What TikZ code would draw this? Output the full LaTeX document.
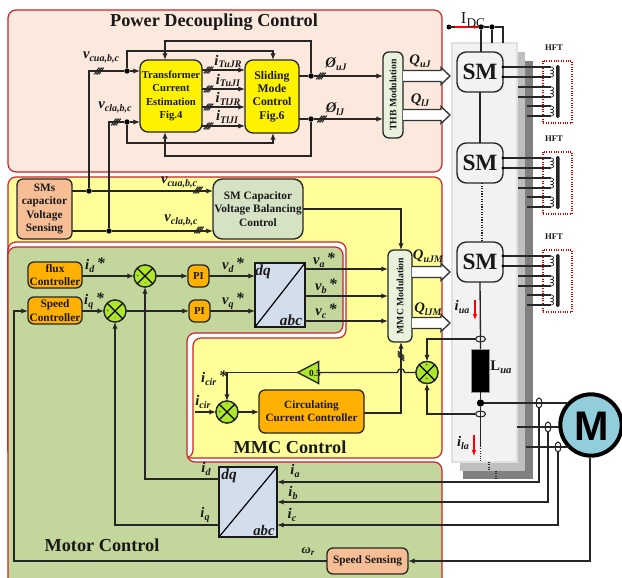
\documentclass[tikz,border=0pt]{standalone}
\usepackage{fontspec}
\setmainfont{Liberation Serif}
\setsansfont{Liberation Sans}
\usetikzlibrary{arrows.meta,shapes.geometric}
\definecolor{pinkp}{HTML}{FCE9DD}
\definecolor{yelp}{HTML}{FFFF99}
\definecolor{grnp}{HTML}{C3D69B}
\definecolor{redl}{HTML}{C8242B}
\definecolor{orb}{HTML}{FFB000}
\definecolor{salm}{HTML}{F7BE96}
\definecolor{lime}{HTML}{ADE62B}
\definecolor{dqb}{HTML}{D3DEEC}
\definecolor{modb}{HTML}{E8F2DC}
\definecolor{balb}{HTML}{D6E2C4}
\definecolor{motb}{HTML}{92CDDC}
\definecolor{smb}{HTML}{F2F2F2}
\newcommand{\fs}[1]{\fontsize{#1}{#1}\selectfont}
\newcommand{\fb}[1]{\fontsize{#1}{10}\selectfont}
\newcommand{\lb}[3][]{{\bfseries\itshape\fs{11}#2\raisebox{-2.2pt}{\fs{7.5}#3}#1}}
\newcommand{\lbs}[2]{{\bfseries\itshape\fs{11}#1\raisebox{-2.2pt}{\fs{7.5}#2}\,\raisebox{1pt}{\fs{12}*}}}
\tikzset{
 x=0.75pt,y=-0.75pt,
 wh/.style 2 args={minimum width=#1*0.75pt,minimum height=#2*0.75pt,inner sep=0pt,outer sep=0pt},
 panel/.style={draw=redl,line width=0.9pt,rounded corners=6pt},
 wire/.style={draw=black!85,line width=0.95pt},
 arr/.style={wire,-{Latex[length=5pt,width=4pt]}},
 blk/.style={draw=black!85,line width=1pt,rounded corners=4.5pt,align=center,text=black!90,font=\bfseries\fb{8.5}},
 yb/.style={blk,fill=yellow,rounded corners=6pt},
 ob/.style={blk,fill=orb},
 sl/.style={blk,fill=salm},
 sm/.style={blk,fill=smb,rounded corners=7pt,font=\bfseries\fs{17.5}},
 dqbox/.style={draw=black!90,line width=1pt,fill=dqb},
 sumj/.style={circle,draw=black!85,line width=1pt,fill=lime,minimum size=16.5pt,inner sep=0pt,outer sep=0pt},
 dotj/.style={circle,fill=black,minimum size=4pt,inner sep=0pt,outer sep=0pt},
 ringh/.style={ellipse,draw=black!85,line width=0.8pt,fill=none,minimum width=7.5pt,minimum height=4.5pt,inner sep=0pt,outer sep=0pt},
 ringv/.style={ellipse,draw=black!85,line width=0.8pt,fill=none,minimum width=4.5pt,minimum height=7.5pt,inner sep=0pt,outer sep=0pt},
 txt/.style={inner sep=0pt,outer sep=0pt,text=black!90},
 hft/.style={draw=red!85!black,densely dotted,line width=0.8pt},
 tiny/.style={inner sep=0pt,font=\bfseries\fs{3.5}},
}
\newcommand{\hatch}[2]{\foreach \d in {-2.4,-0.8,0.8,2.4}{\draw[black!85,line width=0.75pt] (#1+\d-2.4,#2+3.4) -- (#1+\d+2.4,#2-3.4);}}
\newcommand{\hatchv}[2]{\foreach \d in {-2.4,-0.8,0.8,2.4}{\draw[black!85,line width=0.75pt] (#1-3.2,#2+\d-2.6) -- (#1+3.2,#2+\d+2.6);}}
\newcommand{\crossj}[1]{\draw[black,line width=0.85pt] (#1.45)--(#1.225) (#1.135)--(#1.315);}
\newcommand{\hollow}[3]{\fill[white] (#2,#1-5.5) -- (#3-9,#1-5.5) -- (#3-9,#1-8.5) -- (#3,#1) -- (#3-9,#1+8.5) -- (#3-9,#1+5.5) -- (#2,#1+5.5) -- cycle;
 \draw[black!80,line width=1pt,line join=miter] (#2,#1-5.5) -- (#3-9,#1-5.5) -- (#3-9,#1-8.5) -- (#3,#1) -- (#3-9,#1+8.5) -- (#3-9,#1+5.5) -- (#2,#1+5.5);}
\newcommand{\coil}[3]{\draw[black!85,line width=0.85pt] (#1,#2) -- (551,#2) (#1,#3) -- (551,#3);
 \draw[black!85,line width=0.5pt] (551,#2) .. controls (554.5,#2) and (554.5,#2+3.3) .. (551,#2+3.3) .. controls (554.5,#2+3.3) and (554.5,#2+6.6) .. (551,#2+6.6) .. controls (554.5,#2+6.6) and (554.5,#3) .. (551,#3);}
\begin{document}
\begin{tikzpicture}
\useasboundingbox (0,0) rectangle (622,578);
\fill[white] (0,0) rectangle (622,578);
% panels
\draw[panel,fill=pinkp] (8,10) rectangle (442,172);
\draw[panel,fill=yelp] (8,177) rectangle (442,458);
\draw[panel,fill=white] (8,242) -- (346,242) -- (346,338) -- (193,338) -- (193,458) -- (8,458) -- cycle;
\begin{scope}
\clip (0,0) rectangle (622,578);
\draw[panel,fill=grnp] (8,247) -- (343,247) -- (343,333) -- (187,333) -- (187,462) -- (442,462) -- (442,590) -- (8,590) -- cycle;
\end{scope}
% stack panels
\fill[black!50] (463,61) rectangle (533,479);
\fill[black!25] (460,52) rectangle (525,471);
\draw[black!12,fill=smb,line width=0.8pt] (452,43) rectangle (517,462);
% titles
\node[txt,font=\bfseries\fs{13.7}] (t1) at (214,22) {Power Decoupling Control};
\node[txt,font=\bfseries\fs{13.7}] (t2) at (290,447) {MMC Control};
\node[txt,font=\bfseries\fs{13.7}] (t3) at (102,545) {Motor Control};
% blocks: power
\node[yb,wh={62}{72},font=\bfseries\fb{8}] (tce) at (171,96) {Transformer\\Current\\Estimation\\Fig.4};
\node[yb,wh={54}{73},font=\bfseries\fb{8.8}] (smc) at (272,96.5) {Sliding\\Mode\\Control\\Fig.6};
\node[blk,fill=modb,rotate=90,minimum width=86*0.75pt,minimum height=20*0.75pt,inner sep=0pt,outer sep=0pt,font=\bfseries\fs{7.3}] (thb) at (393,95) {THB Modulation};
% sensing
\node[sl,wh={55}{60}] (sens) at (44.5,209) {SMs\\capacitor\\Voltage\\Sensing};
\node[blk,fill=balb,wh={90}{60},rounded corners=7pt] (bal) at (258,209) {SM Capacitor\\Voltage Balancing\\Control};
\node[blk,fill=modb,rotate=90,minimum width=92*0.75pt,minimum height=24*0.75pt,inner sep=0pt,outer sep=0pt,font=\bfseries\fs{7.3}] (mmc) at (400,296) {MMC Modulation};
% motor control top
\node[ob,wh={54}{26}] (flux) at (55,275) {flux\\Controller};
\node[ob,wh={54}{27}] (spd) at (55,310.5) {Speed\\Controller};
\node[sumj] (s1) at (145,276) {};
\node[sumj] (s2) at (115,311) {};
\node[ob,wh={21}{22},font=\bfseries\fs{8}] (pi1) at (198.5,276) {PI};
\node[ob,wh={21}{22},font=\bfseries\fs{8}] (pi2) at (199.5,311) {PI};
\node[dqbox,wh={50}{64}] (dq1) at (280,295) {};
\draw[black,line width=0.9pt] (dq1.south west) -- (dq1.north east);
\node[txt,font=\bfseries\itshape\fs{11.5}] (dq1a) at (263,272) {dq};
\node[txt,font=\bfseries\itshape\fs{11.5}] (dq1b) at (291,320) {abc};
% MMC ctl
\node[sumj] (s3) at (427,372.5) {};
\node[sumj] (s4) at (227,412) {};
\node[isosceles triangle,isosceles triangle stretches,draw=black!85,fill=lime,line width=1pt,shape border rotate=180,minimum height=21*0.75pt,minimum width=22*0.75pt,inner sep=0pt,outer sep=0pt] (gain) at (312,372.5) {};
\node[txt,font=\bfseries\fs{7}] (gaint) at (315,373.5) {0.5};
\node[ob,wh={105}{43},font=\bfseries\fb{8.4}] (ccc) at (311.5,411.5) {Circulating\\Current Controller};
% motor control bottom
\node[dqbox,wh={58}{70}] (dq2) at (248,502) {};
\draw[black,line width=0.9pt] (dq2.south west) -- (dq2.north east);
\node[txt,font=\bfseries\itshape\fs{11.5}] (dq2a) at (229,476) {dq};
\node[txt,font=\bfseries\itshape\fs{11}] (dq2b) at (264,530) {abc};
\node[sl,wh={81}{26},font=\bfseries\fs{8.5}] (ss) at (367.5,561) {Speed Sensing};
% SMs
\node[sm,wh={46}{40}] (sm1) at (480,72) {SM};
\node[sm,wh={46}{40}] (sm2) at (480,163) {SM};
\node[sm,wh={46}{40}] (sm3) at (480,262) {SM};
% junctions
\coordinate (d0) at (449,27);
\node[dotj] (d1) at (481,27) {};
\node[dotj] (d2) at (492,27) {};
\node[dotj] (ivu) at (127,71) {};
\node[dotj] (ivl) at (127,122) {};
\node[dotj] (v1) at (89,191) {};
\node[dotj] (v2) at (109,231) {};
\node[dotj] (ou) at (311,76) {};
\node[dotj] (ol) at (311,119) {};
% hollow arrows
\hollow{76}{403}{450}
\hollow{115}{403}{450}
\hollow{272}{412}{450}
\hollow{323}{412}{450}
% wires power
\coordinate (vua) at (89,71);
\coordinate (vla) at (109,122);
\draw[arr] (v1) -- (vua) -- (ivu) -- (tce.west |- ivu);
\draw[arr] (v2) -- (vla) -- (ivl) -- (tce.west |- ivl);
\hatch{99}{71}\hatch{116}{122}
\fill[black] (d0) circle (2.5);
\coordinate (a1) at (127,51);\coordinate (a2) at (273,51);\coordinate (a3) at (127,143);\coordinate (a4) at (273,143);
\draw[arr] (ivu) -- (a1) -- (a2) -- (smc.north -| a2);
\draw[arr] (ivl) -- (a3) -- (a4) -- (smc.south -| a4);
\coordinate (b1) at (311,41);\coordinate (b2) at (165,41);\coordinate (b3) at (311,156);\coordinate (b4) at (165,156);
\draw[arr] (ou) -- (b1) -- (b2) -- (tce.north -| b2);
\draw[arr] (ol) -- (b3) -- (b4) -- (tce.south -| b4);
\foreach \yy/\nm in {70/c1,89/c2,107/c3,126/c4}{
 \coordinate (\nm) at (202,\yy);
 \draw[arr] (\nm) -- (smc.west |- \nm);
 \hatch{208.5}{\yy}
}
\coordinate (q1) at (383,76);\coordinate (q2) at (383,119);
\draw[arr] (smc.east |- ou) -- (ou) -- (q1);
\draw[arr] (smc.east |- ol) -- (ol) -- (q2);
\hatch{321}{76}\hatch{322}{119}
% sensing wires
\draw[arr] (sens.east |- v1) -- (v1) -- (bal.west |- v1);
\draw[arr] (sens.east |- v2) -- (v2) -- (bal.west |- v2);
\hatch{198}{190}\hatch{199}{230}
\coordinate (bm) at (401,209);
\draw[arr] (bal.east |- bm) -- (bm) -- (mmc.east -| bm);
% motor top wires
\draw[arr] (flux.east |- s1) -- (s1);
\draw[arr] (spd.east |- s2) -- (s2);
\draw[arr] (s1) -- (pi1);
\draw[arr] (s2) -- (pi2);
\draw[arr] (pi1) -- (dq1.west |- pi1);
\draw[arr] (pi2) -- (dq1.west |- pi2);
\foreach \yy/\nm in {269/e1,296/e2,321/e3}{
 \coordinate (\nm) at (305,\yy);
 \draw[arr] (\nm) -- (388,\yy);
}
\node[sumj] at (s1) {};\node[sumj] at (s2) {};\crossj{s1}\crossj{s2}
% feedback from lower dq
\coordinate (f1) at (145,479);\coordinate (f2) at (115,525);
\draw[arr] (dq2.west |- f1) -- (f1) -- (s1.south);
\draw[arr] (dq2.west |- f2) -- (f2) -- (s2.south);
% SM chain
\node[ringh] (r1) at (480.5,339) {};
\node[ringh] (r2) at (480.5,414) {};
\node[dotj,minimum size=5.5pt] (pt) at (480.5,403) {};
\node[fill=black,draw=black!40,line width=0.3pt,wh={18}{43}] (lua) at (480,370.5) {};
\draw[wire,line width=1pt] (d1) -- (481,52);
\draw[wire,line width=1pt] (d0) -- (d1) -- (d2) -- (503,27) -- (503,43);
\draw[wire,line width=1pt] (d2) -- (492,43);
\draw[-{Latex[length=3.5pt,width=3pt]},red,line width=0.8pt] (d0) ++(6,0) -- (479,27);
\draw[wire,line width=1pt] (sm1.south) -- (sm2.north);
\draw[wire,densely dotted,line width=1pt] (482,183) -- (482,242);
\draw[wire,line width=1pt] (sm3.south) -- (r1.center) -- (lua.north -| r1);
\draw[wire,line width=1pt] (lua.south -| pt) -- (pt) -- (r2.center) -- (480.5,446);
\coordinate (lo) at (480.5,446);
\draw[black!85,densely dotted,line width=0.8pt] (lo) -- (480.5,462);
\draw[black!85,densely dotted,line width=0.8pt] (489,462) -- (489,471);
\draw[black!85,densely dotted,line width=0.8pt] (496,471) -- (496,479);
\draw[red,line width=0.8pt,-{Latex[length=4.5pt,width=3.5pt]}] (475,300) -- (475,320);
\draw[red,line width=0.8pt,-{Latex[length=4.5pt,width=3.5pt]}] (474,435) -- (474,456);
% circulating
\coordinate (ri1) at (427,339);\coordinate (ri2) at (427,414);
\draw[arr] (r1) -- (ri1) -- (s3);
\draw[arr] (r2) -- (ri2) -- (s3);
\coordinate (cu) at (401,413);
\draw[arr] (ccc.east |- cu) -- (cu) -- (mmc.west -| cu);
\hatchv{401}{356}
\coordinate (g1) at (227,372.5);
\draw[wire] (s3.west) -- (404.5,372.5) .. controls (404.5,367.5) and (397.5,367.5) .. (397.5,372.5) -- (gain.east);
\draw[arr] (gain.west) -- (g1) -- (s4);
\coordinate (ci) at (195,412);
\draw[arr] (ci) -- (s4);
\draw[arr] (s4) -- (ccc.west |- s4);
\node[sumj] at (s3) {};\node[sumj] at (s4) {};\crossj{s3}\crossj{s4}
% signs
\node[tiny] (p1) at (138,276) {+};\node[tiny] (p2) at (145.5,284) {-};
\node[tiny] (p3) at (108,311) {+};\node[tiny] (p4) at (115,319) {-};
\node[tiny] (p5) at (427,365) {+};\node[tiny] (p6) at (427,379) {+};
\node[tiny] (p7) at (220,412) {+};\node[tiny] (p8) at (227,405) {-};
% motor
\node[circle,draw=black,line width=3pt,fill=motb,minimum size=46pt,inner sep=0pt] (mot) at (591,425) {};
\node[txt,text=black,font=\sffamily\bfseries\fs{31}] (mott) at (592,426) {M};
\coordinate (ml2) at (517,427);\coordinate (ml3) at (526,447);
\node[ringv] (rv1) at (539,403) {};
\node[ringv] (rv2) at (548,427) {};
\node[ringv] (rv3) at (558,447) {};
\draw[wire,line width=1.1pt] (pt) -- (rv1.center) -- (568,403);
\draw[wire,line width=1.1pt] (ml2) -- (rv2.center) -- (559,427);
\draw[wire,line width=1.1pt] (ml3) -- (rv3.center) -- (569,447);
\coordinate (fb1) at (539,482);\coordinate (fb2) at (548,502);\coordinate (fb3) at (558,525);
\draw[arr,line width=1.1pt] (rv1) -- (fb1) -- (dq2.east |- fb1);
\draw[arr,line width=1.1pt] (rv2) -- (fb2) -- (dq2.east |- fb2);
\draw[arr,line width=1.1pt] (rv3) -- (fb3) -- (dq2.east |- fb3);
\coordinate (m1) at (590,561);
\draw[arr,line width=1.1pt] (mot.south -| m1) -- (m1) -- (ss.east);
\coordinate (w1) at (14,561);\coordinate (w2) at (14,311);
\draw[arr] (ss.west) -- (w1) -- (w2) -- (spd.west |- w2);
% transformer
\foreach \oy/\nm in {0/hA,91/hB,189/hC}{
 \draw[hft] (543,61+\oy) rectangle (572,123+\oy);
 \fill[black!85,rounded corners=1pt] (556,65+\oy) rectangle (559.5,118+\oy);
 \coil{503}{67+\oy}{77+\oy}
 \coil{518}{87+\oy}{97+\oy}
 \coil{527}{106+\oy}{116+\oy}
 \fill[black] (503,67+\oy) circle (1.7) (503,77+\oy) circle (1.7);
}
\node[txt,font=\bfseries\fs{6.5}] (hft1) at (554,48) {HFT};
\node[txt,font=\bfseries\fs{6.5}] (hft2) at (554,139) {HFT};
\node[txt,font=\bfseries\fs{6.5}] (hft3) at (554,237) {HFT};
% labels
\node[txt,font=\fs{12.5}] (idc) at (473,20) {I\raisebox{-2.5pt}{\fs{10}DC}};
\node[txt] (l1) at (101,57) {\lb{v}{cua,b,c}};
\node[txt] (l2) at (115,107) {\lb{v}{cla,b,c}};
\node[txt] (l3) at (228,61.5) {\lb{i}{TuJR}};
\node[txt] (l4) at (228,80.5) {\lb{i}{TuJI}};
\node[txt] (l5) at (228,99) {\lb{i}{TlJR}};
\node[txt] (l6) at (227,117) {\lb{i}{TlJI}};
\node[txt] (l7) at (336,64) {\lb{Ø}{uJ}};
\node[txt] (l8) at (335,109) {\lb{Ø}{lJ}};
\node[txt] (l9) at (420,61) {\lb{Q}{uJ}};
\node[txt] (l10) at (420,100) {\lb{Q}{lJ}};
\node[txt] (l11) at (428,256) {\lb{Q}{uJM}};
\node[txt] (l12) at (428,309) {\lb{Q}{lJM}};
\node[txt] (l13) at (179,182) {\lb{v}{cua,b,c}};
\node[txt] (l14) at (181,220) {\lb{v}{cla,b,c}};
\node[txt] (l15) at (95,265) {\lbs{i}{d}};
\node[txt] (l16) at (94,301) {\lbs{i}{q}};
\node[txt] (l17) at (233,265) {\lbs{v}{d}};
\node[txt] (l18) at (233,301) {\lbs{v}{q}};
\node[txt] (l19) at (324,260) {\lbs{v}{a}};
\node[txt] (l20) at (326,286) {\lbs{v}{b}};
\node[txt] (l21) at (326,311) {\lbs{v}{c}};
\node[txt] (l22) at (214,378) {\lbs{i}{cir}};
\node[txt] (l23) at (203,402) {\lb{i}{cir}};
\node[txt] (l24) at (206,469) {\lb{i}{d}};
\node[txt] (l25) at (205,515) {\lb{i}{q}};
\node[txt] (l26) at (295,471) {\lb{i}{a}};
\node[txt] (l27) at (293,493) {\lb{i}{b}};
\node[txt] (l28) at (292,515) {\lb{i}{c}};
\node[txt,font=\bfseries\itshape\fs{9.5}] (l29) at (308,552) {ω\raisebox{-1.5pt}{\fs{7}r}};
\node[txt] (l30) at (462,307) {\lb{i}{ua}};
\node[txt] (l31) at (463,443) {\lb{i}{la}};
\node[txt] (l32) at (501,367) {{\bfseries\fs{11}L\raisebox{-2.2pt}{\itshape\fs{8}ua}}};
\end{tikzpicture}
\end{document}
